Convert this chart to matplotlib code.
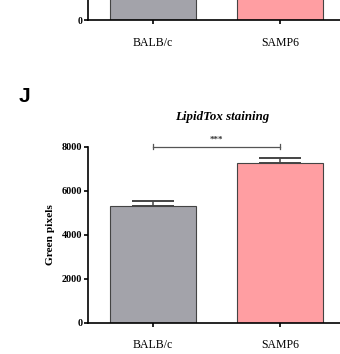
import matplotlib
matplotlib.use("Agg")
import matplotlib.pyplot as plt

categories = ["BALB/c", "SAMP6"]
means = [5300, 7250]
sems = [230, 250]
top_values = [9000, 9000]
yticks = [0, 2000, 4000, 6000, 8000]
colors = ["#A3A3AA", "#FF9EA2"]
sig_label = "***"

W, H = 340, 354
fig = plt.figure(figsize=(W / 100, H / 100), dpi=100)
serif = "Liberation Serif"

# Partial panel above (cut off)
axt = fig.add_axes([88 / W, (H - 20) / H, 252 / W, 60 / H])
axt.bar([0, 1], top_values, width=0.68, color=colors, edgecolor="#444444", linewidth=0.8)
axt.set_xlim(-0.51, 1.47)
axt.set_ylim(0, 3000)
axt.set_yticks([0])
axt.set_yticklabels(["0"], fontfamily=serif, fontweight="bold", fontsize=7)
axt.set_xticks([0, 1])
axt.set_xticklabels(categories, fontfamily=serif, fontsize=8.5)
for s in ["top", "right"]:
    axt.spines[s].set_visible(False)
for s in ["left", "bottom"]:
    axt.spines[s].set_linewidth(1.2)
axt.tick_params(axis="both", length=3, width=1.2, pad=1)
axt.tick_params(axis="x", pad=9)

# Main axes
ax = fig.add_axes([88 / W, (H - 322.7) / H, 252 / W, 176 / H])
ax.bar([0, 1], means, width=0.68, color=colors, edgecolor="#444444", linewidth=0.8, zorder=2)
ax.errorbar([0, 1], means, yerr=[[0, 0], sems], fmt="none", ecolor="#444444",
            elinewidth=1.1, capsize=15, capthick=1.4, zorder=1)
ax.set_xlim(-0.51, 1.47)
ax.set_ylim(0, 8000)
ax.set_yticks(yticks)
ax.set_yticklabels([str(v) for v in yticks], fontfamily=serif, fontweight="bold", fontsize=7.3)
ax.set_xticks([0, 1])
ax.set_xticklabels(categories, fontfamily=serif, fontsize=8.5)
for s in ["top", "right"]:
    ax.spines[s].set_visible(False)
for s in ["left", "bottom"]:
    ax.spines[s].set_linewidth(1.2)
ax.tick_params(axis="both", length=3, width=1.2, pad=1)
ax.tick_params(axis="x", pad=9)
ax.set_ylabel("Green pixels", fontfamily=serif, fontweight="bold", fontsize=8.2, labelpad=5)

# significance bracket
ax.plot([0, 1], [8000, 8000], color="#555555", lw=0.9, clip_on=False)
for x in [0, 1]:
    ax.plot([x, x], [7880, 8120], color="#555555", lw=0.9, clip_on=False)
ax.text(0.5, 8150, sig_label, ha="center", va="bottom", fontsize=6.5,
        fontweight="bold", color="#333333", fontfamily=serif)

fig.text(222 / W, 1 - 117 / H, "LipidTox staining", ha="center", va="center",
         fontfamily=serif, fontstyle="italic", fontweight="bold", fontsize=9.3)
fig.text(24 / W, 1 - 96 / H, "J", ha="center", va="center",
         fontfamily="Liberation Sans", fontweight="bold", fontsize=15)

fig.savefig("out.png", dpi=100)
